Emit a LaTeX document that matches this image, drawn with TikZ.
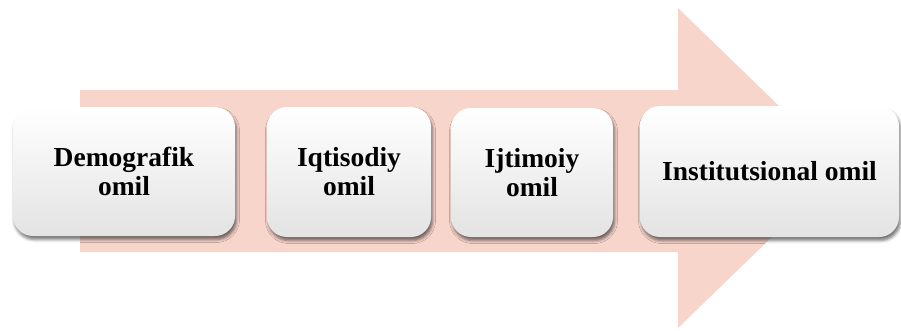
\documentclass[tikz,border=0pt]{standalone}
\usepackage{fontspec}
\setmainfont{Liberation Serif}
\usetikzlibrary{shadows.blur}
\definecolor{arrowpink}{RGB}{247,213,203}
\tikzset{
  factor/.style={rectangle, rounded corners=20pt, inner sep=0pt,
    top color=white, middle color=white, bottom color=black!11,
    font=\fontsize{27.5}{29}\selectfont\bfseries, align=center, text=black,
    blur shadow={shadow xshift=1.5pt, shadow yshift=-3.5pt, shadow blur radius=3pt, shadow opacity=55}},
  bigarrow/.style={fill=arrowpink}
}
\begin{document}
\begin{tikzpicture}[x=1pt,y=-1pt]
\useasboundingbox (0,0) rectangle (901,330);
\fill[bigarrow] (80,90) -- (678,90) -- (678,8) -- (843,168) -- (678,328) -- (678,252) -- (80,252) -- cycle;
\node[factor, minimum width=222pt, minimum height=129pt] (demo) at (124,171.5) {Demografik\\omil};
\node[factor, minimum width=164pt, minimum height=130pt] (iqt) at (349,172) {Iqtisodiy\\omil};
\node[factor, minimum width=162pt, minimum height=129pt] (ijt) at (532,172.5) {Ijtimoiy\\omil};
\node[factor, minimum width=259pt, minimum height=131pt] (inst) at (769.5,171.5) {Institutsional omil};
\end{tikzpicture}
\end{document}
